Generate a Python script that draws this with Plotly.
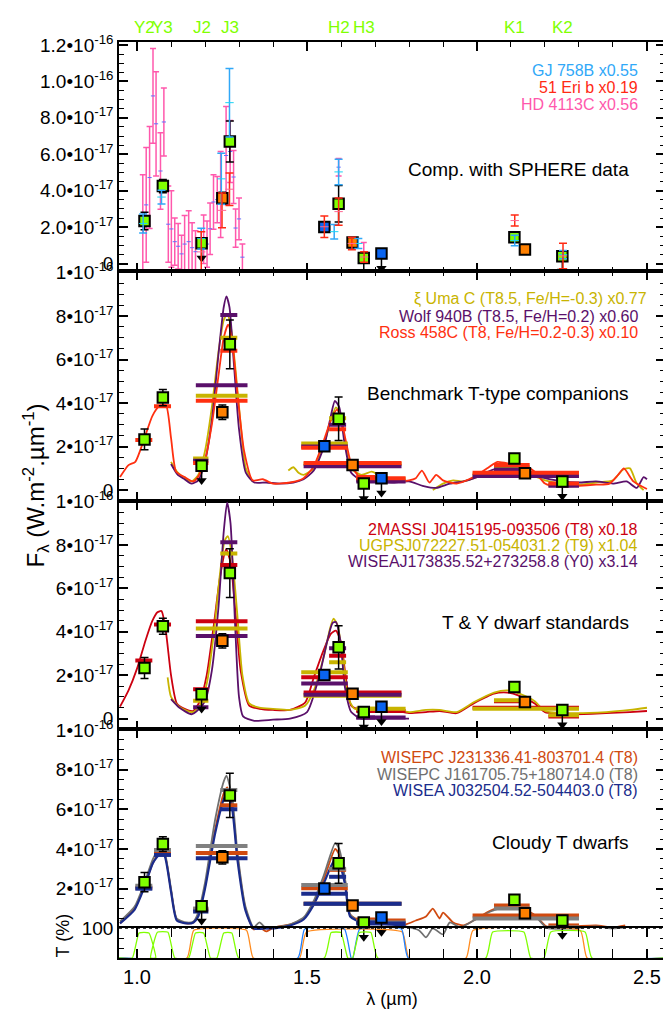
import plotly.graph_objects as go

# flux values are in units of 1e-17 W.m-2.um-1

# SPHERE/IRDIS photometry of the companion
filt_names = ['Y2', 'Y3', 'J2', 'J3', 'H2', 'H3', 'K1', 'K2']
filt_lam = [1.022, 1.076, 1.190, 1.273, 1.593, 1.667, 2.110, 2.251]
tgt_flux = [2.33, 4.25, 1.12, 6.70, 3.28, 0.30, 1.45, 0.40]
tgt_err = [0.48, 0.37, 0.00, 1.12, 1.00, 0.00, 0.13, 0.00]
tgt_ulim = [0, 0, 1, 0, 0, 1, 0, 1]

# other photometry (orange = J/H/K, blue = two narrow H filters)
orng_lam = [1.251, 1.634, 2.141]
orng_flux = [3.58, 1.15, 0.77]
orng_err = [0.33, 0.0, 0.0]
blue_lam = [1.551, 1.719]
blue_flux = [2.01, 0.55]
blue_ulim = [0, 1]

# panel 1 : SPHERE data of other companions
hd4113_lam = [1.017, 1.027, 1.037, 1.047, 1.056, 1.069, 1.079, 1.092, 1.101, 1.111, 1.121,
              1.131, 1.140, 1.152, 1.162, 1.172, 1.196, 1.206, 1.215, 1.225, 1.236, 1.246,
              1.262, 1.274, 1.284, 1.290, 1.300, 1.310, 1.593, 1.667]
hd4113_flux = [2.20, 3.22, 4.72, 9.20, 7.67, 5.08, 7.77, 2.16, 1.90, 1.20, 0.95,
               0.53, 1.07, 1.20, 0.87, 0.65, 1.33, 1.07, 1.91, 3.38, 3.51, 3.79,
               5.93, 6.15, 4.75, 1.95, 2.45, 0.35, 5.29, 0.60]
hd4113_err = [2.67, 3.15, 2.80, 2.60, 2.86, 2.10, 1.87, 2.09, 2.10, 1.30, 1.25,
              1.03, 1.57, 1.70, 1.37, 1.15, 1.33, 1.27, 1.42, 1.50, 1.27, 2.36,
              2.69, 1.70, 1.45, 1.05, 1.15, 0.72, 0.48, 0.55]

gj758_lam = [1.018, 1.072, 1.189, 1.248, 1.272, 1.580, 1.593, 1.651, 2.111, 2.253]
gj758_flux = [2.20, 3.65, 1.37, 4.65, 8.83, 1.75, 5.03, 1.10, 1.27, 0.49]
gj758_err = [0.52, 0.38, 0.57, 1.40, 1.88, 0.40, 0.70, 0.27, 0.29, 0.23]

eri51_lam = [1.189, 1.250, 1.272, 1.551, 1.593, 1.632, 1.668, 2.111, 2.253]
eri51_flux = [0.64, 2.92, 4.08, 2.02, 2.85, 1.10, 0.36, 2.36, 0.42]
eri51_err = [1.11, 0.95, 0.89, 0.59, 0.75, 0.34, 0.29, 0.30, 0.70]

# panel 2 : benchmark T-type companions
ross_lam = [0.950, 0.975, 0.995, 1.020, 1.045, 1.065, 1.085, 1.100, 1.115, 1.140, 1.165, 1.180,
            1.200, 1.220, 1.240, 1.255, 1.268, 1.280, 1.295, 1.315, 1.340, 1.370, 1.400, 1.450,
            1.490, 1.520, 1.550, 1.570, 1.588, 1.600, 1.615, 1.632, 1.655, 1.700, 1.750, 1.800,
            1.820, 1.838, 1.860, 1.880, 1.900, 1.940, 1.990, 2.030, 2.060, 2.100, 2.140, 2.170,
            2.200, 2.240, 2.300, 2.350, 2.390, 2.415, 2.432, 2.460, 2.500]
ross_flux = [0.60, 1.15, 1.30, 2.30, 3.40, 3.85, 3.90, 2.40, 0.85, 0.60, 0.40, 0.62,
             1.40, 3.00, 5.30, 7.00, 7.60, 6.80, 4.50, 1.80, 0.45, 0.50, 0.30, 0.35,
             0.55, 1.10, 2.30, 3.20, 3.70, 3.30, 2.20, 1.10, 0.60, 0.45, 0.40, 0.45,
             0.55, 0.90, 0.35, 0.70, 0.45, 0.30, 0.60, 1.00, 1.30, 1.20, 1.10, 0.85,
             0.30, 0.15, 0.20, 0.25, 0.30, 0.70, 1.00, 0.40, 0.05]
wolf_lam = [1.100, 1.120, 1.140, 1.160, 1.180, 1.200, 1.220, 1.240, 1.255, 1.263, 1.272, 1.285,
            1.300, 1.320, 1.345, 1.380, 1.420, 1.460, 1.490, 1.520, 1.550, 1.570, 1.582, 1.595,
            1.610, 1.630, 1.660, 1.700, 1.750, 1.800, 1.840, 1.880, 1.920, 1.960, 2.000, 2.050,
            2.100, 2.150, 2.200, 2.250, 2.300, 2.350, 2.400, 2.440, 2.470, 2.490, 2.500]
wolf_flux = [1.20, 0.70, 0.50, 0.30, 0.45, 1.30, 3.20, 6.30, 8.40, 8.90, 8.40, 5.80,
             2.80, 0.80, 0.35, 0.35, 0.30, 0.35, 0.50, 0.90, 2.00, 3.40, 4.10, 3.80,
             2.20, 0.80, 0.45, 0.40, 0.35, 0.40, 0.20, 0.10, 0.30, 0.40, 0.60, 0.95,
             0.80, 0.75, 0.55, 0.40, 0.35, 0.40, 0.30, 0.40, 0.10, 0.60, 0.50]
xi_lam = [1.100, 1.120, 1.140, 1.160, 1.180, 1.200, 1.220, 1.240, 1.255, 1.265, 1.275, 1.290,
          1.305, 1.320, 1.340, None, 1.445, 1.460, 1.475, 1.490, 1.520, 1.550, 1.570, 1.585,
          1.598, 1.612, 1.630, 1.660, 1.690, 1.705, 1.720, None, 1.870, 1.900, 1.930, 1.960,
          2.000, 2.050, 2.100, 2.150, 2.200, 2.250, 2.300, 2.350, 2.400, 2.430, 2.450, 2.470, 2.490]
xi_flux = [1.30, 0.80, 0.55, 0.40, 0.70, 1.80, 3.80, 6.40, 7.80, 8.10, 7.60, 5.50,
           3.00, 1.00, 0.40, None, 0.90, 1.05, 0.80, 0.70, 1.00, 2.10, 3.20, 3.80,
           3.50, 2.20, 1.00, 0.70, 0.85, 0.75, 0.60, None, 0.00, 0.30, 0.45, 0.40,
           0.60, 0.80, 0.80, 0.75, 0.45, 0.30, 0.25, 0.35, 0.45, 0.95, 1.00, 0.30, 0.00]

# panel 3 : T & Y dwarf standards
m0415_lam = [0.950, 0.975, 1.000, 1.025, 1.045, 1.060, 1.072, 1.085, 1.100, 1.117, 1.140, 1.165,
             1.185, 1.205, 1.225, 1.245, 1.262, 1.275, 1.290, 1.305, 1.330, 1.360, 1.400, 1.450,
             1.495, 1.520, 1.550, 1.570, 1.585, 1.600, 1.615, 1.630, 1.660, 1.700, 1.750, 1.800,
             1.850, 1.890, 1.940, 1.990, 2.050, 2.090, 2.125, 2.170, 2.200, 2.280, 2.380, 2.450, 2.500]
m0415_flux = [0.55, 1.30, 2.30, 3.60, 4.50, 4.90, 4.95, 4.00, 2.00, 0.70, 0.45, 0.35,
              0.80, 2.00, 4.20, 6.60, 7.80, 7.20, 4.80, 2.20, 0.60, 0.45, 0.40, 0.40,
              0.75, 1.90, 3.20, 3.90, 4.05, 3.50, 1.80, 0.60, 0.40, 0.40, 0.40, 0.25,
              0.30, 0.35, 0.25, 0.70, 1.15, 1.20, 1.05, 0.70, 0.30, 0.20, 0.25, 0.30, 0.35]
u0722_lam = [1.090, 1.100, 1.120, 1.140, 1.165, 1.185, 1.205, 1.225, 1.245, 1.258, 1.267, 1.280,
             1.295, 1.310, 1.330, 1.360, 1.400, 1.450, 1.495, 1.520, 1.550, 1.567, 1.578, 1.590,
             1.605, 1.620, 1.640, 1.680, 1.750, 1.800, 1.850, 1.890, 1.940, 1.990, 2.050, 2.090,
             2.125, 2.170, 2.200, 2.280, 2.380, 2.450, 2.500]
u0722_flux = [1.90, 1.00, 0.60, 0.40, 0.30, 0.60, 1.60, 3.80, 6.80, 8.20, 8.40, 7.40,
              4.80, 2.00, 0.70, 0.50, 0.45, 0.40, 0.60, 1.30, 2.90, 4.10, 4.60, 4.30,
              2.80, 1.00, 0.45, 0.40, 0.45, 0.30, 0.40, 0.40, 0.30, 0.75, 1.20, 1.30,
              1.15, 0.80, 0.35, 0.25, 0.30, 0.40, 0.50]
w1738_lam = [1.100, 1.125, 1.160, 1.180, 1.200, 1.220, 1.240, 1.255, 1.265, 1.275, 1.288, 1.300,
             1.312, 1.345, 1.400, 1.450, 1.500, 1.535, 1.560, 1.575, 1.585, 1.598, 1.612, 1.630,
             1.660, 1.700, 1.750, 1.800]
w1738_flux = [0.90, 0.50, 0.20, 0.40, 0.80, 2.20, 5.20, 8.60, 9.95, 9.00, 4.50, 1.00,
              0.10, -0.10, -0.05, 0.00, 0.30, 1.90, 3.60, 4.40, 4.45, 3.60, 1.40, 0.30,
              0.00, 0.00, 0.00, 0.00]

# panel 4 : cloudy T dwarfs
w2313_lam = [0.950, 0.993, 1.020, 1.047, 1.068, 1.080, 1.100, 1.117, 1.146, 1.166, 1.180, 1.200,
             1.230, 1.255, 1.265, 1.280, 1.295, 1.319, 1.343, 1.360, 1.380, 1.403, 1.451, 1.490,
             1.520, 1.550, 1.583, 1.595, 1.612, 1.627, 1.660, 1.700, 1.750, 1.790, 1.820, 1.850,
             1.870, 1.890, 1.900, 1.930, 1.960, 1.990, 2.040, 2.090, 2.127, 2.175, 2.204, 2.280,
             2.350, 2.400, 2.436]
w2313_flux = [0.25, 1.00, 2.05, 3.30, 3.85, 3.80, 1.90, 0.45, 0.25, 0.30, 0.70, 2.10,
              5.00, 6.80, 7.10, 6.20, 3.70, 1.00, -0.05, 0.05, -0.15, 0.05, 0.20, 0.50,
              1.30, 2.50, 4.00, 3.70, 2.40, 0.70, 0.35, 0.30, 0.25, 0.20, 0.40, 0.60,
              1.00, 0.50, 0.80, 0.30, 0.15, 0.40, 0.90, 1.15, 1.10, 0.60, 0.10, 0.10,
              0.15, 0.05, 0.15]
w1617_lam = [0.950, 0.993, 1.020, 1.047, 1.068, 1.080, 1.100, 1.117, 1.146, 1.166, 1.180, 1.200,
             1.230, 1.255, 1.263, 1.280, 1.295, 1.319, 1.343, 1.360, 1.380, 1.403, 1.451, 1.490,
             1.520, 1.550, 1.583, 1.595, 1.612, 1.627, 1.660, 1.700, 1.750, 1.790, 1.830, 1.850,
             1.870, 1.900, 1.920, 1.950, 1.990, 2.040, 2.090, 2.127, 2.175, 2.204, 2.280, 2.350,
             2.400, 2.436]
w1617_flux = [0.35, 1.10, 2.20, 3.50, 4.05, 3.90, 2.00, 0.50, 0.30, 0.35, 0.80, 2.30,
              5.50, 7.40, 7.70, 6.60, 3.90, 1.10, 0.05, 0.30, 0.00, 0.05, 0.20, 0.55,
              1.40, 2.70, 4.30, 4.00, 2.50, 0.70, 0.30, 0.25, 0.20, 0.10, -0.10, -0.45,
              0.00, -0.30, 0.30, 0.05, 0.40, 0.85, 1.10, 1.05, 0.55, 0.05, 0.00, 0.10,
              0.00, 0.05]
w0325_lam = [0.950, 0.993, 1.020, 1.047, 1.068, 1.080, 1.100, 1.117, 1.146, 1.166, 1.180, 1.200,
             1.230, 1.255, 1.265, 1.280, 1.295, 1.319, 1.343, 1.380, 1.403, 1.451, 1.490, 1.520,
             1.550, 1.583, 1.595, 1.612, 1.627, 1.660, 1.700, 1.750, 1.790]
w0325_flux = [0.25, 0.95, 2.00, 3.30, 3.75, 3.70, 1.85, 0.40, 0.25, 0.30, 0.60, 2.00,
              4.80, 6.50, 6.80, 6.00, 3.50, 0.90, 0.00, 0.00, 0.00, 0.15, 0.45, 1.20,
              2.30, 3.50, 3.30, 2.20, 0.60, 0.30, 0.25, 0.20, 0.10]

# synthetic photometry bars: Y2 Y3 J2 J3 J B1 H H2 H3 B2 K K1 K2
band_lo = [0.995, 1.050, 1.165, 1.245, 1.173, 1.483, 1.490, 1.565, 1.645, 1.645, 1.987, 2.050, 2.210]
band_hi = [1.045, 1.100, 1.210, 1.295, 1.325, 1.620, 1.778, 1.615, 1.700, 1.790, 2.300, 2.155, 2.300]
xi_bars = [None, None, 1.45, 7.00, 4.33, 2.14, 1.20, 3.30, 0.55, 0.50, 0.72, 1.05, 0.25]
wolf_bars = [None, None, 1.35, 8.05, 4.82, 2.00, 1.10, 3.00, 0.45, 0.40, 0.65, 0.95, 0.20]
ross_bars = [2.30, 3.85, 1.25, 6.40, 4.10, 1.95, 1.25, 2.80, 0.60, 0.55, 0.80, 1.15, 0.30]
m0415_bars = [2.67, 4.33, 1.35, 7.07, 4.48, 1.90, 1.20, 2.90, 0.40, 0.35, 0.50, 0.80, 0.10]
u0722_bars = [None, None, 0.82, 7.60, 4.15, 2.14, 1.05, 2.60, 0.45, 0.45, 0.45, 0.85, 0.15]
w1738_bars = [None, None, 0.52, 8.12, 3.80, 1.62, 1.10, 3.24, 0.05, 0.05, None, None, None]
w2313_bars = [2.05, 3.85, 0.95, 6.20, 3.80, 2.02, 1.24, 2.95, 0.45, 0.40, 0.65, 1.16, 0.15]
w1617_bars = [2.15, 3.95, 1.00, 6.97, 4.15, 2.19, 1.24, 3.00, 0.35, 0.30, 0.50, 1.00, 0.05]
w0325_bars = [2.00, 3.70, 0.85, 6.00, 3.53, 1.74, 1.24, 2.60, 0.30, 0.25, None, None, None]

# filter transmissions (%)
irdis_lo = [0.996, 1.050, 1.162, 1.245, 1.561, 1.644, 2.036, 2.207]
irdis_hi = [1.045, 1.101, 1.206, 1.289, 1.610, 1.698, 2.148, 2.328]
irdis_T = [85, 87, 85, 85, 86, 86, 88, 88]
broad_lo = [1.157, 1.488, 1.978]
broad_hi = [1.332, 1.790, 2.314]
broad_T = [94, 88, 93]
nbh_lo = [1.483, 1.645]
nbh_hi = [1.620, 1.788]
nbh_T = [98, 98]

X_RANGE = [0.947, 2.553]
GREEN, ORANGE, BLUE = '#80ff00', '#ff8000', '#0a64f0'

fig = go.Figure()

panels = [
    dict(yr=[-0.434, 12.16], dom=[0.7495, 1.0], ppu=18.42),
    dict(yr=[-0.50, 10.045], dom=[0.4989, 0.7495], ppu=22.0),
    dict(yr=[-0.50, 10.02], dom=[0.2495, 0.4989], ppu=22.0),
    dict(yr=[-1.49, 10.02], dom=[0.0, 0.2495], ppu=20.1),
]


def ax(i):
    return ('x' if i == 1 else 'x%d' % i), ('y' if i == 1 else 'y%d' % i)


def add_spec(i, lam, flux, color, width=1.8):
    xa, ya = ax(i)
    fig.add_trace(go.Scatter(x=lam, y=flux, mode='lines', xaxis=xa, yaxis=ya,
                             line=dict(color=color, width=width, shape='spline', smoothing=0.6)))


def add_bars(i, vals, color):
    xa, ya = ax(i)
    xs, ys = [], []
    for lo, hi, v in zip(band_lo, band_hi, vals):
        if v is None:
            continue
        xs += [lo, hi, None]
        ys += [v, v, None]
    fig.add_trace(go.Scatter(x=xs, y=ys, mode='lines', xaxis=xa, yaxis=ya,
                             line=dict(color=color, width=4)))


def add_errbars(i, lam, flux, err, color, width=4, mid=False):
    xa, ya = ax(i)
    fig.add_trace(go.Scatter(x=lam, y=flux, mode='markers', xaxis=xa, yaxis=ya,
                             marker=dict(symbol='line-ew-open', size=3 if mid else 0,
                                         line=dict(color=color, width=1)),
                             error_y=dict(type='data', array=err, color=color,
                                          thickness=1.5, width=width)))


def add_target(i):
    xa, ya = ax(i)
    d = 15.0 / panels[i - 1]['ppu']
    ux = [l for l, u in zip(filt_lam, tgt_ulim) if u] + [l for l, u in zip(blue_lam, blue_ulim) if u]
    uf = [f for f, u in zip(tgt_flux, tgt_ulim) if u] + [f for f, u in zip(blue_flux, blue_ulim) if u]
    fig.add_trace(go.Scatter(x=ux, y=[f - d for f in uf], mode='markers', xaxis=xa, yaxis=ya,
                             marker=dict(symbol='triangle-down', size=9, color='black'),
                             error_y=dict(type='data', array=[d] * len(ux), arrayminus=[0] * len(ux),
                                          width=0, color='black', thickness=1.5)))
    sq = dict(symbol='square', size=10.5, line=dict(color='black', width=2))
    fig.add_trace(go.Scatter(x=orng_lam, y=orng_flux, mode='markers', xaxis=xa, yaxis=ya,
                             marker=dict(color=ORANGE, **sq),
                             error_y=dict(type='data', array=orng_err, color='black', thickness=1.5, width=4)))
    fig.add_trace(go.Scatter(x=blue_lam, y=blue_flux, mode='markers', xaxis=xa, yaxis=ya,
                             marker=dict(color=BLUE, **sq)))
    fig.add_trace(go.Scatter(x=filt_lam, y=tgt_flux, mode='markers', xaxis=xa, yaxis=ya,
                             marker=dict(color=GREEN, **sq),
                             error_y=dict(type='data', array=tgt_err, color='black', thickness=1.5, width=4)))


def filt_xy(los, his, tops, ramp=0.01):
    xs, ys = [X_RANGE[0]], [0]
    for lo, hi, t in zip(los, his, tops):
        xs += [lo - ramp, lo + ramp, hi - ramp, hi + ramp]
        ys += [0, t, t, 0]
    xs.append(X_RANGE[1])
    ys.append(0)
    return xs, ys


# panel 1
add_errbars(1, hd4113_lam, hd4113_flux, hd4113_err, '#ff58ac', width=3, mid=True)
add_target(1)
add_errbars(1, gj758_lam, gj758_flux, gj758_err, '#30a8f8')
add_errbars(1, eri51_lam, eri51_flux, eri51_err, '#ff2a14')

# panel 2
add_spec(2, xi_lam, xi_flux, '#c8b400')
add_spec(2, wolf_lam, wolf_flux, '#5a106a')
add_spec(2, ross_lam, ross_flux, '#ff3010')
add_bars(2, xi_bars, '#c8b400')
add_bars(2, wolf_bars, '#5a106a')
add_bars(2, ross_bars, '#ff3010')
add_target(2)

# panel 3
add_spec(3, m0415_lam, m0415_flux, '#cc0010')
add_spec(3, u0722_lam, u0722_flux, '#c8b400')
add_spec(3, w1738_lam, w1738_flux, '#5a106a')
add_bars(3, m0415_bars, '#cc0010')
add_bars(3, u0722_bars, '#c8b400')
add_bars(3, w1738_bars, '#5a106a')
add_target(3)

# panel 4
add_spec(4, w2313_lam, w2313_flux, '#d04a10')
add_spec(4, w1617_lam, w1617_flux, '#707070')
add_spec(4, w0325_lam, w0325_flux, '#1a2c8c', width=2.2)
add_bars(4, w2313_bars, '#d04a10')
add_bars(4, w1617_bars, '#808080')
add_bars(4, w0325_bars, '#1a2c8c')
add_target(4)

# filter transmissions
for los, his, tops, col in [(broad_lo, broad_hi, broad_T, '#ff8c20'),
                            (nbh_lo, nbh_hi, nbh_T, '#2080ff'),
                            (irdis_lo, irdis_hi, irdis_T, '#80ff00')]:
    fx, fy = filt_xy(los, his, tops)
    fig.add_trace(go.Scatter(x=fx, y=fy, mode='lines', xaxis='x4', yaxis='y5',
                             line=dict(color=col, width=1.3, shape='spline', smoothing=0.4)))

# axes
major_x = [1.0, 1.5, 2.0, 2.5]
minor_x = [1.1, 1.2, 1.3, 1.4, 1.6, 1.7, 1.8, 1.9, 2.1, 2.2, 2.3, 2.4]
ytick1 = [0, 2, 4, 6, 8, 10, 12]
ytext1 = ['0', '2.0•10<sup>-17</sup>', '4.0•10<sup>-17</sup>', '6.0•10<sup>-17</sup>',
          '8.0•10<sup>-17</sup>', '1.0•10<sup>-16</sup>', '1.2•10<sup>-16</sup>']
ytick2 = [0, 2, 4, 6, 8, 10]
ytext2 = ['0', '2•10<sup>-17</sup>', '4•10<sup>-17</sup>', '6•10<sup>-17</sup>',
          '8•10<sup>-17</sup>', '1•10<sup>-16</sup>']

line_kw = dict(showline=True, linecolor='black', linewidth=1.5, mirror='allticks', ticks='inside',
               tickcolor='black', tickwidth=1.5, ticklen=9, showgrid=False, zeroline=False)

layout_axes = {}
for i, p in enumerate(panels, start=1):
    xa, ya = ax(i)
    xkey = 'xaxis' if i == 1 else 'xaxis%d' % i
    ykey = 'yaxis' if i == 1 else 'yaxis%d' % i
    layout_axes[xkey] = dict(domain=[0, 1], range=X_RANGE, anchor=ya, tickmode='array',
                             tickvals=major_x, ticktext=['1.0', '1.5', '2.0', '2.5'],
                             showticklabels=(i == 4), tickfont=dict(size=20, color='black'),
                             minor=dict(tickmode='array', tickvals=minor_x, ticks='inside',
                                        ticklen=5, tickwidth=1.2, tickcolor='black'),
                             **line_kw)
    if i == 1:
        tv, tt = ytick1, ytext1
        mv = [k * 0.5 for k in range(0, 25) if k % 4]
    elif i < 4:
        tv, tt = ytick2, ytext2
        mv = [k * 0.5 for k in range(0, 21) if k % 4]
    else:
        tv, tt = ytick2[1:], ytext2[1:]
        mv = [k * 0.5 for k in range(1, 21) if k % 4]
    layout_axes[ykey] = dict(domain=p['dom'], range=p['yr'], anchor=xa, tickmode='array',
                             tickvals=tv, ticktext=tt, tickfont=dict(size=19, color='black'),
                             minor=dict(tickmode='array', tickvals=mv, ticks='inside',
                                        ticklen=5, tickwidth=1.2, tickcolor='black'),
                             **line_kw)

layout_axes['xaxis4']['title'] = dict(text='λ (µm)', font=dict(size=18), standoff=6)
layout_axes['yaxis5'] = dict(domain=[0, 0.0324], range=[0, 100.5], anchor='x4', tickmode='array',
                             tickvals=[100], ticktext=['100'], tickfont=dict(size=19, color='black'),
                             minor=dict(tickmode='array', tickvals=[33.3, 66.7], ticks='inside',
                                        ticklen=5, tickwidth=1.2, tickcolor='black'),
                             **line_kw)

fig.update_layout(width=671, height=1010, showlegend=False,
                  margin=dict(l=111, r=12, t=34, b=50),
                  paper_bgcolor='white', plot_bgcolor='rgba(0,0,0,0)',
                  font=dict(family='Liberation Sans, Arial, sans-serif', color='black'),
                  **layout_axes)

# dotted 100% line
fig.add_shape(type='line', xref='x4', yref='y5', x0=X_RANGE[0], x1=X_RANGE[1], y0=100, y1=100,
              line=dict(color='black', width=1.2, dash='dot'))


def px2p(px, py):
    return (px - 111) / 548.0, (960 - py) / 926.0


notes = [
    (634, 63, 'GJ 758B x0.55', '#30a8f8'),
    (634, 80, '51 Eri b x0.19', '#ff2a14'),
    (634, 97, 'HD 4113C x0.56', '#ff58ac'),
    (625, 163, 'Comp. with SPHERE data', 'black'),
    (643, 294, 'ξ Uma C (T8.5, Fe/H=-0.3) x0.77', '#c8b400'),
    (634, 311, 'Wolf 940B (T8.5, Fe/H=0.2) x0.60', '#5a106a'),
    (634, 328, 'Ross 458C (T8, Fe/H=0.2-0.3) x0.10', '#ff3010'),
    (625, 389, 'Benchmark T-type companions', 'black'),
    (634, 527, '2MASSI J0415195-093506 (T8) x0.18', '#cc0010'),
    (634, 543, 'UGPSJ072227.51-054031.2 (T9) x1.04', '#c8b400'),
    (634, 559, 'WISEAJ173835.52+273258.8 (Y0) x3.14', '#5a106a'),
    (625, 621, 'T & Y dwarf standards', 'black'),
    (634, 757, 'WISEPC J231336.41-803701.4 (T8)', '#d04a10'),
    (634, 774, 'WISEPC J161705.75+180714.0 (T8)', '#707070'),
    (634, 791, 'WISEA J032504.52-504403.0 (T8)', '#1a2c8c'),
    (625, 843, 'Cloudy T dwarfs', 'black'),
]
for px, py, txt, col in notes:
    x, y = px2p(px, py)
    fig.add_annotation(x=x, y=y, xref='paper', yref='paper', text=txt, showarrow=False,
                       xanchor='right', yanchor='middle',
                       font=dict(size=19 if col == 'black' else 16, color=col))

for lam, name in zip(filt_lam, filt_names):
    fig.add_annotation(x=lam, y=px2p(0, 19)[1], xref='x', yref='paper', text=name, showarrow=False,
                       xanchor='center', yanchor='middle', font=dict(size=17, color='#80ff00'))

x, y = px2p(28, 482)
fig.add_annotation(x=x, y=y, xref='paper', yref='paper', textangle=-90, showarrow=False,
                   xanchor='center', yanchor='middle',
                   text='F<sub>λ</sub> (W.m<sup>-2</sup>.µm<sup>-1</sup>)', font=dict(size=24))
x, y = px2p(55, 937)
fig.add_annotation(x=x, y=y, xref='paper', yref='paper', textangle=-90, showarrow=False,
                   xanchor='center', yanchor='middle', text='T (%)', font=dict(size=18))

fig.write_html('out.html')
